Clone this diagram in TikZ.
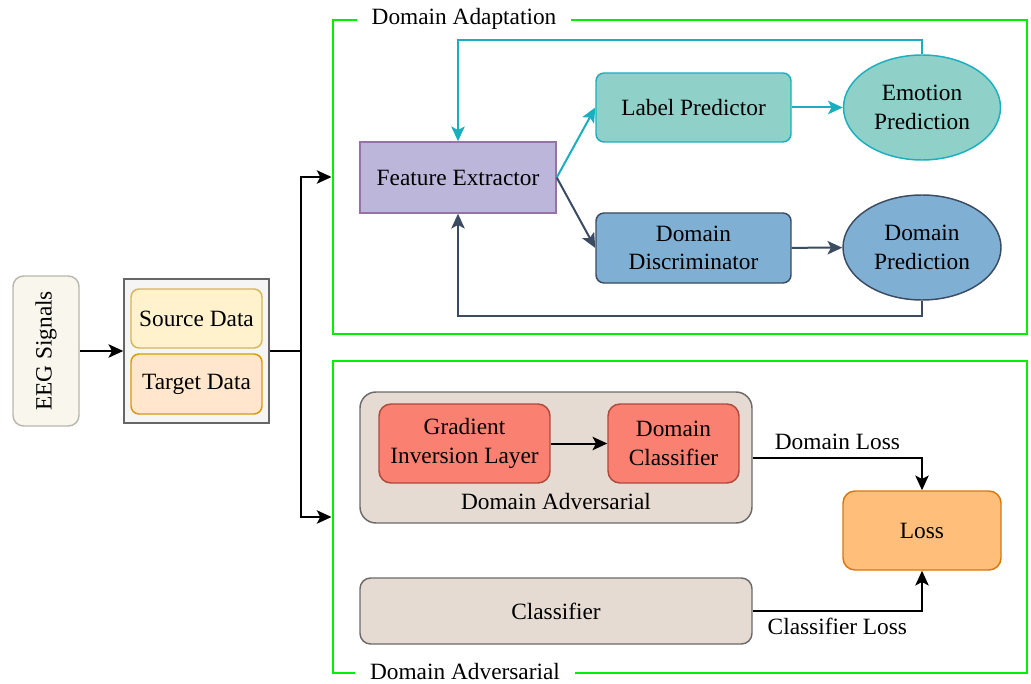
\documentclass[tikz,border=0pt]{standalone}
\usepackage{fontspec}
\setmainfont{Liberation Serif}
\usetikzlibrary{arrows.meta,shapes.geometric,fit}

\definecolor{eegfill}{HTML}{F9F7ED}
\definecolor{eegdraw}{HTML}{BAB7AC}
\definecolor{datafill}{HTML}{F5F5F5}
\definecolor{datadraw}{HTML}{666666}
\definecolor{srcfill}{HTML}{FFF2CC}
\definecolor{srcdraw}{HTML}{D6B656}
\definecolor{tgtfill}{HTML}{FFE6CC}
\definecolor{tgtdraw}{HTML}{D79B00}
\definecolor{fefill}{HTML}{BDB6DB}
\definecolor{fedraw}{HTML}{9673A6}
\definecolor{tealfill}{HTML}{8FD0C8}
\definecolor{tealdraw}{HTML}{1AAFBF}
\definecolor{bluefill}{HTML}{7FAFD3}
\definecolor{bluedraw}{HTML}{3A4B62}
\definecolor{tanfill}{HTML}{E6DBD2}
\definecolor{tandraw}{HTML}{6B6B6B}
\definecolor{redfill}{HTML}{FA8072}
\definecolor{reddraw}{HTML}{AE4A3C}
\definecolor{lossfill}{HTML}{FFBF7A}
\definecolor{lossdraw}{HTML}{D6780F}
\definecolor{framegreen}{HTML}{00F000}

\tikzset{
  sz/.style 2 args={minimum width=#1*0.75pt, minimum height=#2*0.75pt, inner sep=0pt},
  box/.style={draw, line width=1.1pt, rounded corners=6pt, align=center},
  plainbox/.style={draw, line width=1.1pt, align=center},
  oval/.style={draw, ellipse, line width=1.1pt, align=center},
  frame/.style={draw=framegreen, line width=2.2pt, inner sep=0pt},
  framelabel/.style={fill=white, inner xsep=11pt, inner ysep=1pt},
  arr/.style={line width=1.5pt, -{Stealth[length=11pt,width=10pt,inset=2.5pt]}},
  link/.style={line width=1.5pt},
  tealarr/.style={arr, draw=tealdraw},
  bluearr/.style={arr, draw=bluedraw},
}

\begin{document}
\begin{tikzpicture}[x=0.75pt, y=-0.75pt, font=\fontsize{17.5}{21.5}\selectfont]
\useasboundingbox (0,0) rectangle (1031,684);

% input side
\node[box, sz={66}{150}, fill=eegfill, draw=eegdraw, rounded corners=8pt] (eeg) at (46,351) {};
\node[rotate=90] (eegtext) at (eeg.center) {EEG Signals};
\node[plainbox, sz={145}{144}, fill=datafill, draw=datadraw] (data) at (196.5,351) {};
\node[box, sz={131}{59}, fill=srcfill, draw=srcdraw] (src) at (196.5,318.5) {Source Data};
\node[box, sz={131}{60}, fill=tgtfill, draw=tgtdraw] (tgt) at (196.5,384) {Target Data};

% the two green panels
\node[frame, fit={(333,20) (1027,334)}] (adapt) {};
\node[frame, fit={(333,361) (1027,673)}] (advers) {};
\node[framelabel] (adaptlabel) at (464,19) {Domain Adaptation};
\node[framelabel] (adverslabel) at (465,672) {Domain Adversarial};

% domain adaptation branch
\node[plainbox, sz={196}{71}, fill=fefill, draw=fedraw] (fe) at (458,177.5) {Feature Extractor};
\node[box, sz={195}{69}, fill=tealfill, draw=tealdraw] (lp) at (693.5,107.5) {Label Predictor};
\node[oval, sz={157}{105}, fill=tealfill, draw=tealdraw] (emo) at (922,107.5) {Emotion\\Prediction};
\node[box, sz={195}{70}, fill=bluefill, draw=bluedraw] (dd) at (693.5,248) {Domain\\Discriminator};
\node[oval, sz={158}{105}, fill=bluefill, draw=bluedraw] (dp) at (922,247.5) {Domain\\Prediction};

% domain adversarial branch
\node[box, sz={392}{131}, fill=tanfill, draw=tandraw, rounded corners=12pt] (dadv) at (556,457.5) {};
\node (dadvtext) at (556,502) {Domain Adversarial};
\node[box, sz={171}{79}, fill=redfill, draw=reddraw, rounded corners=9pt] (gil) at (464.5,443.5) {Gradient\\Inversion Layer};
\node[box, sz={131}{79}, fill=redfill, draw=reddraw, rounded corners=9pt] (dcl) at (673.5,443.5) {Domain\\Classifier};
\node[box, sz={158}{79}, fill=lossfill, draw=lossdraw, rounded corners=9pt] (loss) at (922,530.5) {Loss};
\node[box, sz={392}{66}, fill=tanfill, draw=tandraw, rounded corners=8pt] (cls) at (556,611) {Classifier};

% connectors
\coordinate (split) at (301,351);
\draw[arr] (eeg) -- (data);
\draw[link] (data.east) -- (split);
\draw[arr] (split) |- (adapt.west);
\draw[arr] (split) |- (advers.west);

\draw[tealarr] (fe.east) -- (lp.west);
\draw[bluearr] (fe.east) -- (dd.west);
\draw[tealarr] (lp) -- (emo);
\draw[bluearr] (dd) -- (dp);
\draw[tealarr] (emo.north) -- ++(0,-14) -| (fe.north);
\draw[bluearr] (dp.south) -- ++(0,15) -| (fe.south);

\draw[arr] (gil) -- (dcl);
\draw[arr] (dadv.east) -| node[pos=0.25, above=2pt] {Domain Loss} (loss.north);
\draw[arr] (cls.east) -| node[pos=0.25, below=1pt] {Classifier Loss} (loss.south);
\end{tikzpicture}
\end{document}
